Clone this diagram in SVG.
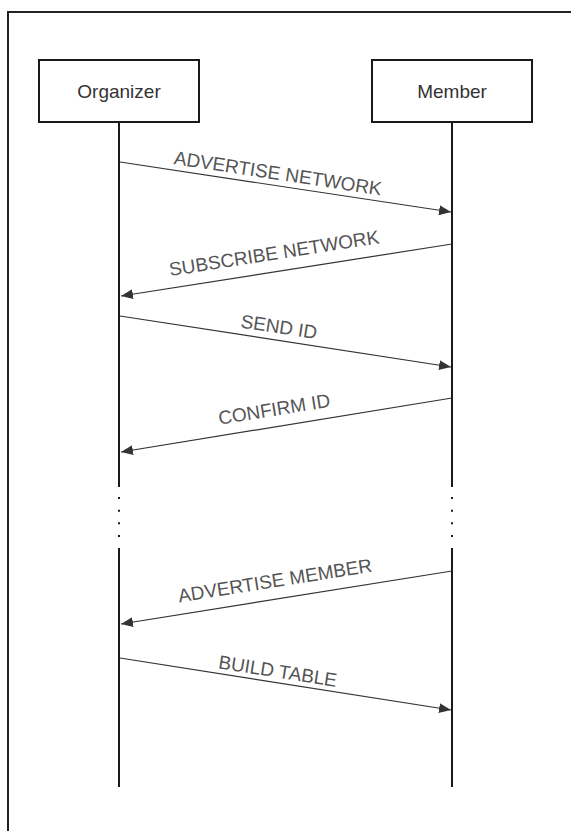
<svg xmlns="http://www.w3.org/2000/svg" width="571" height="831" viewBox="0 0 571 831">
<style>
.box{fill:#fff;stroke:#1a1a1a;stroke-width:2}
.life{stroke:#1a1a1a;stroke-width:2;fill:none}
.dots{stroke:#1a1a1a;stroke-width:2;stroke-dasharray:2 10.67;fill:none}
.name{font-family:"Liberation Sans",Arial,sans-serif;font-size:19px;fill:#333;text-anchor:middle}
.msg{stroke:#333;stroke-width:1.2;fill:none;marker-end:url(#arr)}
.lbl{font-family:"Liberation Sans",Arial,sans-serif;font-size:19px;fill:#555;text-anchor:middle}
</style>
<defs>
<marker id="arr" markerUnits="userSpaceOnUse" markerWidth="13" markerHeight="11" refX="12" refY="5" orient="auto">
<path d="M0,0 L12,5 L0,10 Z" fill="#333"/>
</marker>
</defs>
<rect x="0" y="0" width="571" height="831" fill="#fff"/>
<rect x="8" y="12" width="620" height="900" fill="#fff" stroke="#222" stroke-width="2"/>
<g id="organizer">
<line class="life" x1="119" y1="122" x2="119" y2="487"/>
<line class="dots" x1="119" y1="497" x2="119" y2="537"/>
<line class="life" x1="119" y1="548" x2="119" y2="787"/>
<rect class="box" x="39" y="60" width="160" height="62"/>
<text class="name" x="119" y="98">Organizer</text>
</g>
<g id="member">
<line class="life" x1="452" y1="122" x2="452" y2="487"/>
<line class="dots" x1="452" y1="497" x2="452" y2="537"/>
<line class="life" x1="452" y1="548" x2="452" y2="787"/>
<rect class="box" x="372" y="60" width="160" height="62"/>
<text class="name" x="452" y="98">Member</text>
</g>
<g id="connectors">
<g id="m1"><line class="msg" x1="120" y1="162" x2="451" y2="212"/>
<text class="lbl" x="276" y="179.6" transform="rotate(8.59 276 185.6)">ADVERTISE NETWORK</text></g>
<g id="m2"><line class="msg" x1="452" y1="244" x2="121" y2="296"/>
<text class="lbl" x="277" y="259.5" transform="rotate(-8.93 277 271.5)">SUBSCRIBE NETWORK</text></g>
<g id="m3"><line class="msg" x1="120" y1="316" x2="451" y2="367"/>
<text class="lbl" x="277" y="333.2" transform="rotate(8.76 277 340.2)">SEND ID</text></g>
<g id="m4"><line class="msg" x1="452" y1="398" x2="121" y2="452"/>
<text class="lbl" x="277" y="415.6" transform="rotate(-9.27 277 426.6)">CONFIRM ID</text></g>
<g id="m5"><line class="msg" x1="452" y1="571" x2="121" y2="624"/>
<text class="lbl" x="278" y="586.9" transform="rotate(-9.10 278 598.9)">ADVERTISE MEMBER</text></g>
<g id="m6"><line class="msg" x1="120" y1="658" x2="451" y2="710"/>
<text class="lbl" x="276" y="677.5" transform="rotate(8.93 276 682.5)">BUILD TABLE</text></g>
</g>
</svg>
